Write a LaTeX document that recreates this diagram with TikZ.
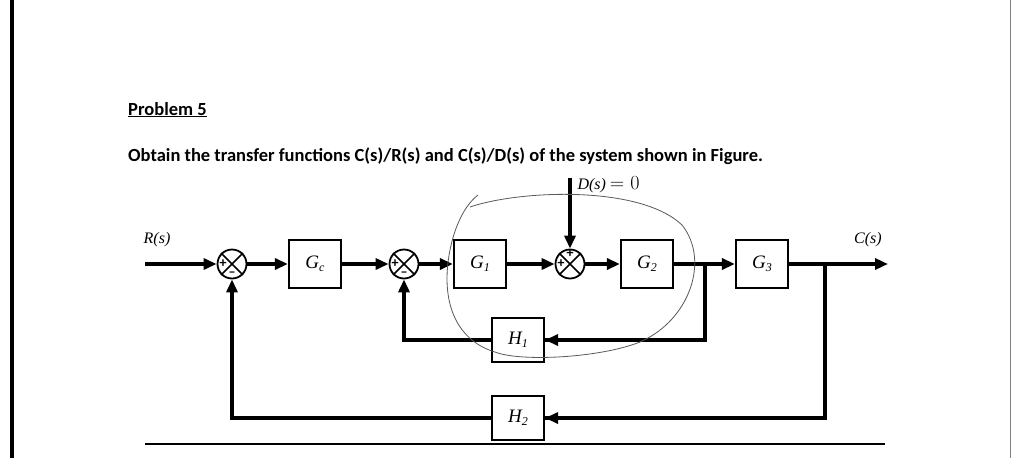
\documentclass[tikz,border=0pt]{standalone}
\usepackage{fontspec}
\setmainfont{Carlito}
\newfontfamily\serif{Liberation Serif}
\usetikzlibrary{arrows.meta}
\newcommand{\lbl}[2]{#1\raisebox{-0.3ex}{\fontsize{12}{12}\selectfont #2}}
\begin{document}
\begin{tikzpicture}[x=1pt,y=-1pt,
  blk/.style={draw,line width=2.2pt,minimum width=52pt,minimum height=48pt,font=\serif\itshape\fontsize{19}{19}\selectfont},
  sj/.style={draw,circle,line width=1.8pt,minimum size=29pt,inner sep=0pt},
  sig/.style={line width=3.4pt,-{Triangle[length=13pt,width=11pt]}},
  ln/.style={line width=3.4pt},
  lab/.style={font=\serif\itshape\fontsize{16}{16}\selectfont},
  sg/.style={font=\fontsize{14}{14}\selectfont\bfseries,inner sep=0pt}]
\useasboundingbox (0,0) rectangle (1022,458);
\fill[white] (0,0) rectangle (1022,458);
\fill[black] (10,0) rectangle (14,458);
\draw[line width=0.6pt,gray] (1010,0) -- (1010,458);
\node[anchor=base west,font=\bfseries\fontsize{18.5}{18.5}\selectfont,inner sep=0pt] (t1) at (128,115) {\underline{Problem 5}};
\node[anchor=base west,font=\bfseries\fontsize{18.5}{18.5}\selectfont,inner sep=0pt] (t2) at (128,161) {Obtain the transfer functions C(s)/R(s) and C(s)/D(s) of the system shown in Figure.};
\node[sj] (s1) at (232,264) {};
\node[sj] (s2) at (404,264) {};
\node[sj] (s3) at (570,264) {};
\foreach \s in {s1,s2,s3}{\draw[line width=1.6pt] (\s.north west) -- (\s.south east) (\s.north east) -- (\s.south west);}
\node[sg] (p1) at (223,264) {+};
\node[sg] (m1) at (232,274) {–};
\node[sg] (p2) at (395,264) {+};
\node[sg] (m2) at (404,274) {–};
\node[sg] (p3) at (561,264) {+};
\node[sg] (q3) at (570,254) {+};
\node[blk] (gc) at (315,264) {\lbl{G}{c}};
\node[blk] (g1) at (480,264) {\lbl{G}{1}};
\node[blk] (g2) at (647,264) {\lbl{G}{2}};
\node[blk] (g3) at (762,264) {\lbl{G}{3}};
\node[blk,minimum height=44pt] (h1) at (518,340) {\lbl{H}{1}};
\node[blk,minimum height=44pt] (h2) at (518,418) {\lbl{H}{2}};
\coordinate (rin) at (145,264);
\coordinate (cout) at (888,264);
\coordinate (b1) at (705,264);
\coordinate (b2) at (825,264);
\coordinate (din) at (570,178);
\node[lab,anchor=south] (rl) at (157,250) {R(s)};
\node[lab,anchor=south] (cl) at (868,250) {C(s)};
\node[lab,anchor=west] (dl) at (574,185) {D(s) {\fontfamily{lmr}\selectfont\fontsize{20}{20}\selectfont\upshape = 0}};
\draw[sig] (rin) -- (s1);
\draw[sig] (s1) -- (gc);
\draw[sig] (gc) -- (s2);
\draw[sig] (s2) -- (g1);
\draw[sig] (g1) -- (s3);
\draw[sig] (s3) -- (g2);
\draw[sig] (g2) -- (g3);
\draw[sig] (g3) -- (cout);
\draw[sig] (din) -- (s3);
\draw[ln] (b1) |- (h1);
\draw[sig] (b1 |- h1) -- (h1);
\draw[sig] (h1) -| (s2);
\draw[ln] (b2) |- (h2);
\draw[sig] (b2 |- h2) -- (h2);
\draw[sig] (h2) -| (s1);
\draw[line width=1.2pt] (145,444) -- (885,444);
\draw[gray!70!black,line width=0.8pt] (470,207) .. controls (520,190) and (640,185) .. (682,225)
  .. controls (710,260) and (690,320) .. (640,342)
  .. controls (600,358) and (520,362) .. (495,352)
  .. controls (455,340) and (440,300) .. (450,250)
  .. controls (455,225) and (465,205) .. (478,195);
\end{tikzpicture}
\end{document}
